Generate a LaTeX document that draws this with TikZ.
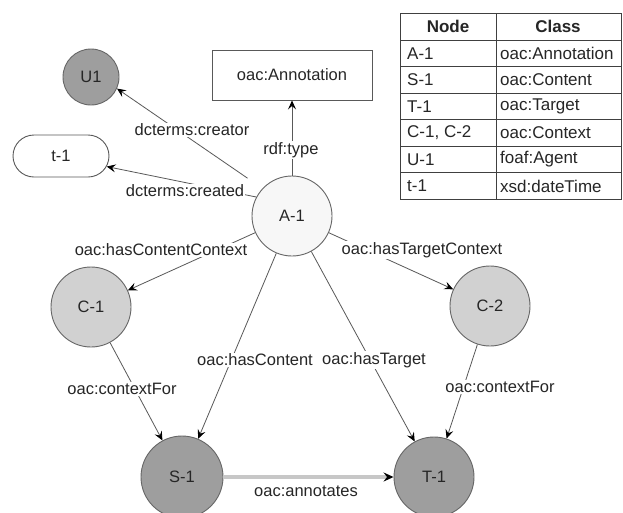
\documentclass[tikz,border=0pt]{standalone}
\usepackage{fontspec}
\setmainfont{Liberation Sans}
\usetikzlibrary{arrows.meta,shapes.misc}
\begin{document}
\begin{tikzpicture}[x=1pt,y=-1pt,
  every node/.style={font=\fontsize{16.5}{18}\selectfont, text=black!85},
  res/.style={circle, draw=black!60, line width=0.9pt, minimum size=80pt, inner sep=0pt},
  dark/.style={res, fill=black!38},
  light/.style={res, fill=black!18},
  pale/.style={res, fill=black!3},
  lit/.style={draw=black!65, line width=0.9pt, fill=white, inner sep=0pt},
  rel/.style={draw=black!65, line width=0.8pt, -{Stealth[length=9pt,width=8pt,inset=3.5pt,black]}},
  lbl/.style={fill=white, inner sep=1pt},
  tbl/.style={font=\fontsize{17}{19}\selectfont, anchor=west, inner sep=0pt},
  tline/.style={draw=black!75, line width=1pt}
]
\useasboundingbox (0,0) rectangle (623,512);
\fill[white] (0,0) rectangle (623,512);

% nodes
\node[dark] (U1) at (91,77) [minimum size=56pt] {U1};
\node[lit, minimum width=160pt, minimum height=50pt] (cls) at (292,75) {oac:Annotation};
\node[lit, rounded rectangle, minimum width=96pt, minimum height=42pt] (t1) at (61,156) {t-1};
\node[pale] (A1) at (292,216) {A-1};
\node[light] (C1) at (91,307) {C-1};
\node[light] (C2) at (490,306) {C-2};
\node[dark, minimum width=82pt] (S1) at (182,477) {S-1};
\node[dark] (T1) at (434,477) {T-1};

% connectors
\draw[rel, shorten <=18pt] (A1.137) -- (U1.-24);
\draw[rel] (A1.152) -- (t1.-13);
\draw[rel] (A1.north) -- (cls.south);
\draw[rel] (A1) -- (C1);
\draw[rel] (A1) -- (C2);
\draw[rel] (A1) -- (S1);
\draw[rel] (A1) -- (T1);
\draw[rel] (C1) -- (S1);
\draw[rel] (C2) -- (T1);
\draw[draw=black!22, line width=4pt, -{Stealth[length=10pt,width=9pt,inset=3.5pt,black]}] (S1) -- (T1);

% connector labels
\node[lbl] (l1) at (192,130) {dcterms:creator};
\node[lbl] (l2) at (185,191) {dcterms:created};
\node[lbl] (l3) at (291,150) {rdf:type};
\node[lbl] (l4) at (161,250) {oac:hasContentContext};
\node[lbl] (l5) at (422,250) {oac:hasTargetContext};
\node[lbl] (l6) at (255,360) {oac:hasContent};
\node[lbl] (l7) at (374,360) {oac:hasTarget};
\node[lbl] (l8) at (122,389) {oac:contextFor};
\node[lbl] (l9) at (500,387) {oac:contextFor};
\node[inner sep=1pt] (l10) at (306,491) {oac:annotates};

% table
\draw[tline] (400,13) rectangle (621,199);
\draw[tline] (496,13) -- (496,199);
\foreach \yy in {40,66.5,93,119.5,146,172.5} \draw[tline] (400,\yy) -- (621,\yy);
\node[tbl, anchor=center, font=\fontsize{17}{19}\selectfont\bfseries] (h1) at (448,26.5) {Node};
\node[tbl, anchor=center, font=\fontsize{17}{19}\selectfont\bfseries] (h2) at (558,26.5) {Class};
\node[tbl] (r1a) at (407,53.3) {A-1};
\node[tbl] (r1b) at (500,53.3) {oac:Annotation};
\node[tbl] (r2a) at (407,79.9) {S-1};
\node[tbl] (r2b) at (500,79.9) {oac:Content};
\node[tbl] (r3a) at (407,106.5) {T-1};
\node[tbl] (r3b) at (500,106.5) {oac:Target};
\node[tbl] (r4a) at (407,133) {C-1, C-2};
\node[tbl] (r4b) at (500,133) {oac:Context};
\node[tbl] (r5a) at (407,159.6) {U-1};
\node[tbl] (r5b) at (500,159.6) {foaf:Agent};
\node[tbl] (r6a) at (407,186.2) {t-1};
\node[tbl] (r6b) at (500,186.2) {xsd:dateTime};
\end{tikzpicture}
\end{document}
